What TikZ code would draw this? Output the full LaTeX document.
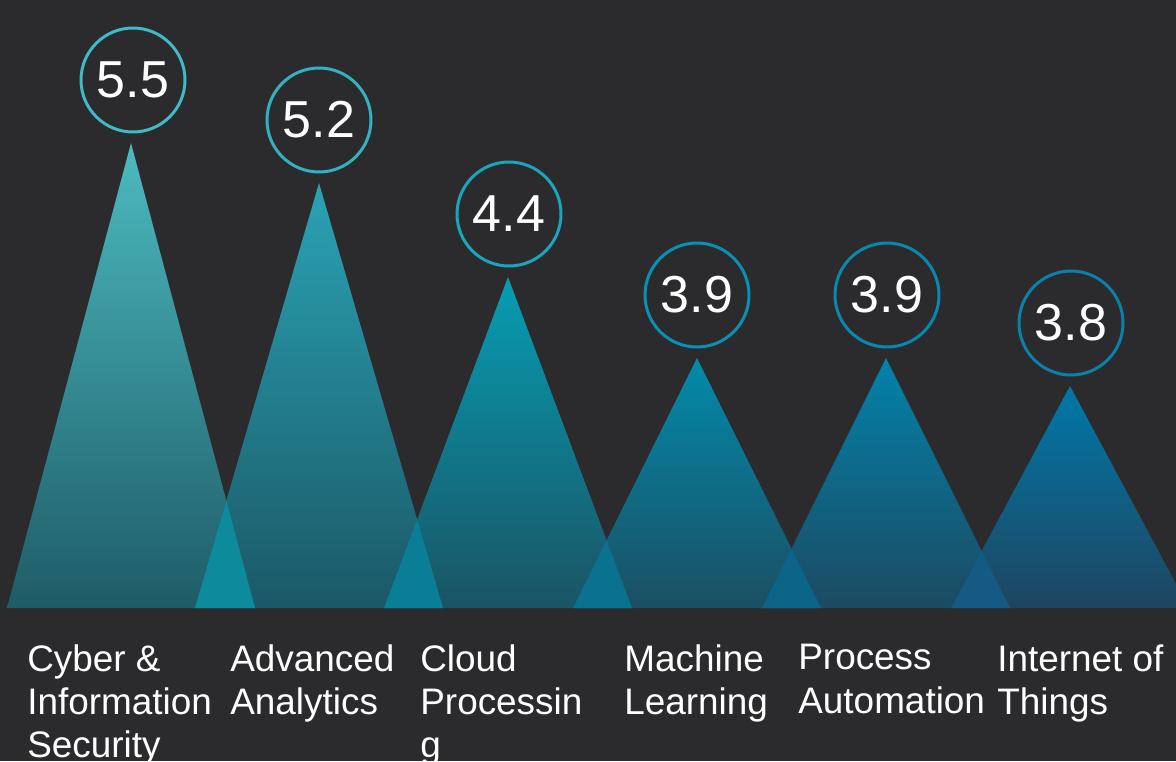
\documentclass[tikz,border=0pt]{standalone}
\usepackage{fontspec}
\setmainfont{Liberation Sans}
\definecolor{bg}{HTML}{2B2B2D}
\definecolor{topA}{HTML}{4CBAC0}\definecolor{botA}{HTML}{1E5C67}
\definecolor{topB}{HTML}{2AA3B3}\definecolor{botB}{HTML}{1B5867}
\definecolor{topC}{HTML}{069DB1}\definecolor{botC}{HTML}{1A5465}
\definecolor{topD}{HTML}{028AAA}\definecolor{botD}{HTML}{1B4F63}
\definecolor{topE}{HTML}{0282AA}\definecolor{botE}{HTML}{1C4A62}
\definecolor{topF}{HTML}{0078A8}\definecolor{botF}{HTML}{1F4560}
\definecolor{ovA}{HTML}{0D8A9C}
\definecolor{ovB}{HTML}{0B7E97}
\definecolor{ovC}{HTML}{0A7190}
\definecolor{ovD}{HTML}{0C6489}
\definecolor{ovE}{HTML}{145A82}
\definecolor{ringA}{HTML}{40BAC4}
\definecolor{ringB}{HTML}{34B1C1}
\definecolor{ringC}{HTML}{1AA5BE}
\definecolor{ringD}{HTML}{0A90B6}
\definecolor{ringE}{HTML}{0888B1}
\definecolor{ringF}{HTML}{0A80AB}
\begin{document}
\begin{tikzpicture}[x=0.02cm, y=-0.02cm,
  val/.style={circle, draw, line width=1.7pt, minimum size=2.08cm, inner sep=0pt, text=white, font=\fontsize{29.6}{30}\selectfont},
  cat/.style={anchor=north west, inner sep=0pt, align=left, text=white, font=\fontsize{21}{24.7}\selectfont}]
\fill[bg] (0,0) rectangle (1176,761);
\useasboundingbox (0,0) rectangle (1176,761);
\coordinate (l1) at (7,608);   \coordinate (a1) at (131,143);  \coordinate (r1) at (255,608);
\coordinate (l2) at (195,608); \coordinate (a2) at (319,183);  \coordinate (r2) at (443,608);
\coordinate (l3) at (384,608); \coordinate (a3) at (508,277);  \coordinate (r3) at (632,608);
\coordinate (l4) at (573,608); \coordinate (a4) at (697,358);  \coordinate (r4) at (821,608);
\coordinate (l5) at (762,608); \coordinate (a5) at (886,358);  \coordinate (r5) at (1010,608);
\coordinate (l6) at (951,608); \coordinate (a6) at (1070,386); \coordinate (r6) at (1189,608);
\begin{scope}
\clip (0,0) rectangle (1176,761);
\shade[top color=topA, bottom color=botA] (l1) -- (a1) -- (r1) -- cycle;
\shade[top color=topB, bottom color=botB] (l2) -- (a2) -- (r2) -- cycle;
\shade[top color=topC, bottom color=botC] (l3) -- (a3) -- (r3) -- cycle;
\shade[top color=topD, bottom color=botD] (l4) -- (a4) -- (r4) -- cycle;
\shade[top color=topE, bottom color=botE] (l5) -- (a5) -- (r5) -- cycle;
\shade[top color=topF, bottom color=botF] (l6) -- (a6) -- (r6) -- cycle;
\fill[ovA] (l2) -- (intersection of l2--a2 and a1--r1) -- (r1) -- cycle;
\fill[ovB] (l3) -- (intersection of l3--a3 and a2--r2) -- (r2) -- cycle;
\fill[ovC] (l4) -- (intersection of l4--a4 and a3--r3) -- (r3) -- cycle;
\fill[ovD] (l5) -- (intersection of l5--a5 and a4--r4) -- (r4) -- cycle;
\fill[ovE] (l6) -- (intersection of l6--a6 and a5--r5) -- (r5) -- cycle;
\end{scope}
\node[val, draw=ringA] (v1) at (133,80) {5.5};
\node[val, draw=ringB] (v2) at (319,120) {5.2};
\node[val, draw=ringC] (v3) at (509,214) {4.4};
\node[val, draw=ringD] (v4) at (697,295) {3.9};
\node[val, draw=ringE] (v5) at (887,295) {3.9};
\node[val, draw=ringF] (v6) at (1071,323) {3.8};
\node[cat] (c1) at (27,644) {Cyber \&\\Information\\Security};
\node[cat] (c2) at (230,644) {Advanced\\Analytics};
\node[cat] (c3) at (420,644) {Cloud\\Processin\\g};
\node[cat] (c4) at (624,644) {Machine\\Learning};
\node[cat] (c5) at (798,644) {Process\\Automation};
\node[cat] (c6) at (997,644) {Internet of\\Things};
\end{tikzpicture}
\end{document}
